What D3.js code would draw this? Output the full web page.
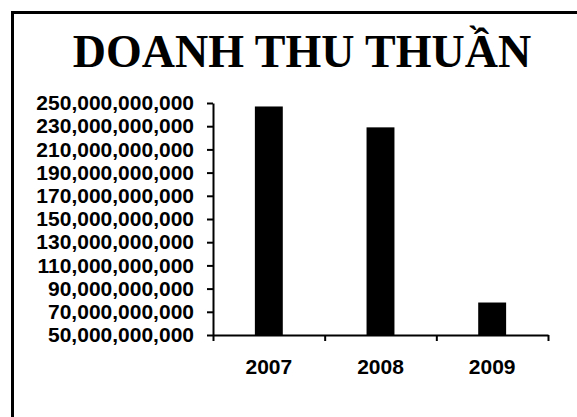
<!DOCTYPE html>
<html>
<head>
<meta charset="utf-8">
<script src="https://cdn.jsdelivr.net/npm/d3@7"></script>
<style>
  body { margin: 0; background: #fff; }
  svg { display: block; }
</style>
</head>
<body>
<div id="chart"></div>
<script>
// data
var years = ["2007", "2008", "2009"];
var revenue = [247000000000, 229000000000, 78000000000];
var yTicks = [50e9, 70e9, 90e9, 110e9, 130e9, 150e9, 170e9, 190e9, 210e9, 230e9, 250e9];

var W = 577, H = 417;
var margin = {top: 103, right: 29, bottom: 82, left: 213},
    width = W - margin.left - margin.right,
    height = H - margin.top - margin.bottom;

var svg = d3.select("#chart").append("svg")
    .attr("width", W)
    .attr("height", H);

// outer frame (only top and left edges are inside the picture)
svg.append("path")
    .attr("d", "M12.5," + H + "V12.5H" + W)
    .attr("fill", "none")
    .attr("stroke", "#000")
    .attr("stroke-width", 3);

// title
svg.append("text")
    .attr("x", 302)
    .attr("y", 67)
    .attr("text-anchor", "middle")
    .style("font-family", "'Liberation Serif', 'Times New Roman', serif")
    .style("font-weight", "bold")
    .style("font-size", "46px")
    .text("DOANH THU THUẦN");

var g = svg.append("g")
    .attr("transform", "translate(" + margin.left + "," + margin.top + ")");

// scales
var x = d3.scaleBand().domain(years).range([0, width]).padding(0);
var y = d3.scaleLinear().domain([50e9, 250e9]).range([height, 0]);
var xb = d3.scaleLinear().domain([0, years.length]).range([0, width]);

// bars
var barW = x.bandwidth() * 0.25;
g.selectAll(".bar")
    .data(revenue)
  .enter().append("rect")
    .attr("class", "bar")
    .attr("x", function(d, i) { return x(years[i]) + x.bandwidth() / 2 - barW / 2; })
    .attr("y", function(d) { return y(d); })
    .attr("width", barW)
    .attr("height", function(d) { return height - y(d); })
    .attr("fill", "#000");

// y axis
var yAxis = g.append("g")
    .call(d3.axisLeft(y)
        .tickValues(yTicks)
        .tickSize(6)
        .tickSizeOuter(0)
        .tickPadding(13)
        .tickFormat(d3.format(",")));

// x axis - boundary ticks
var xTickAxis = g.append("g")
    .attr("transform", "translate(0," + height + ")")
    .call(d3.axisBottom(xb)
        .tickValues(d3.range(years.length + 1))
        .tickSize(6)
        .tickSizeOuter(0)
        .tickFormat(""));

// x axis - category labels
var xAxis = g.append("g")
    .attr("transform", "translate(0," + height + ")")
    .call(d3.axisBottom(x).tickSize(0).tickPadding(24));
xAxis.select(".domain").remove();

[yAxis, xTickAxis, xAxis].forEach(function(a) {
  a.selectAll("path, line").attr("stroke", "#000").attr("stroke-width", 2);
  a.selectAll("text")
      .attr("fill", "#000")
      .style("font-family", "'Liberation Sans', Arial, sans-serif")
      .style("font-weight", "bold")
      .style("font-size", "21px");
});
</script>
</body>
</html>
